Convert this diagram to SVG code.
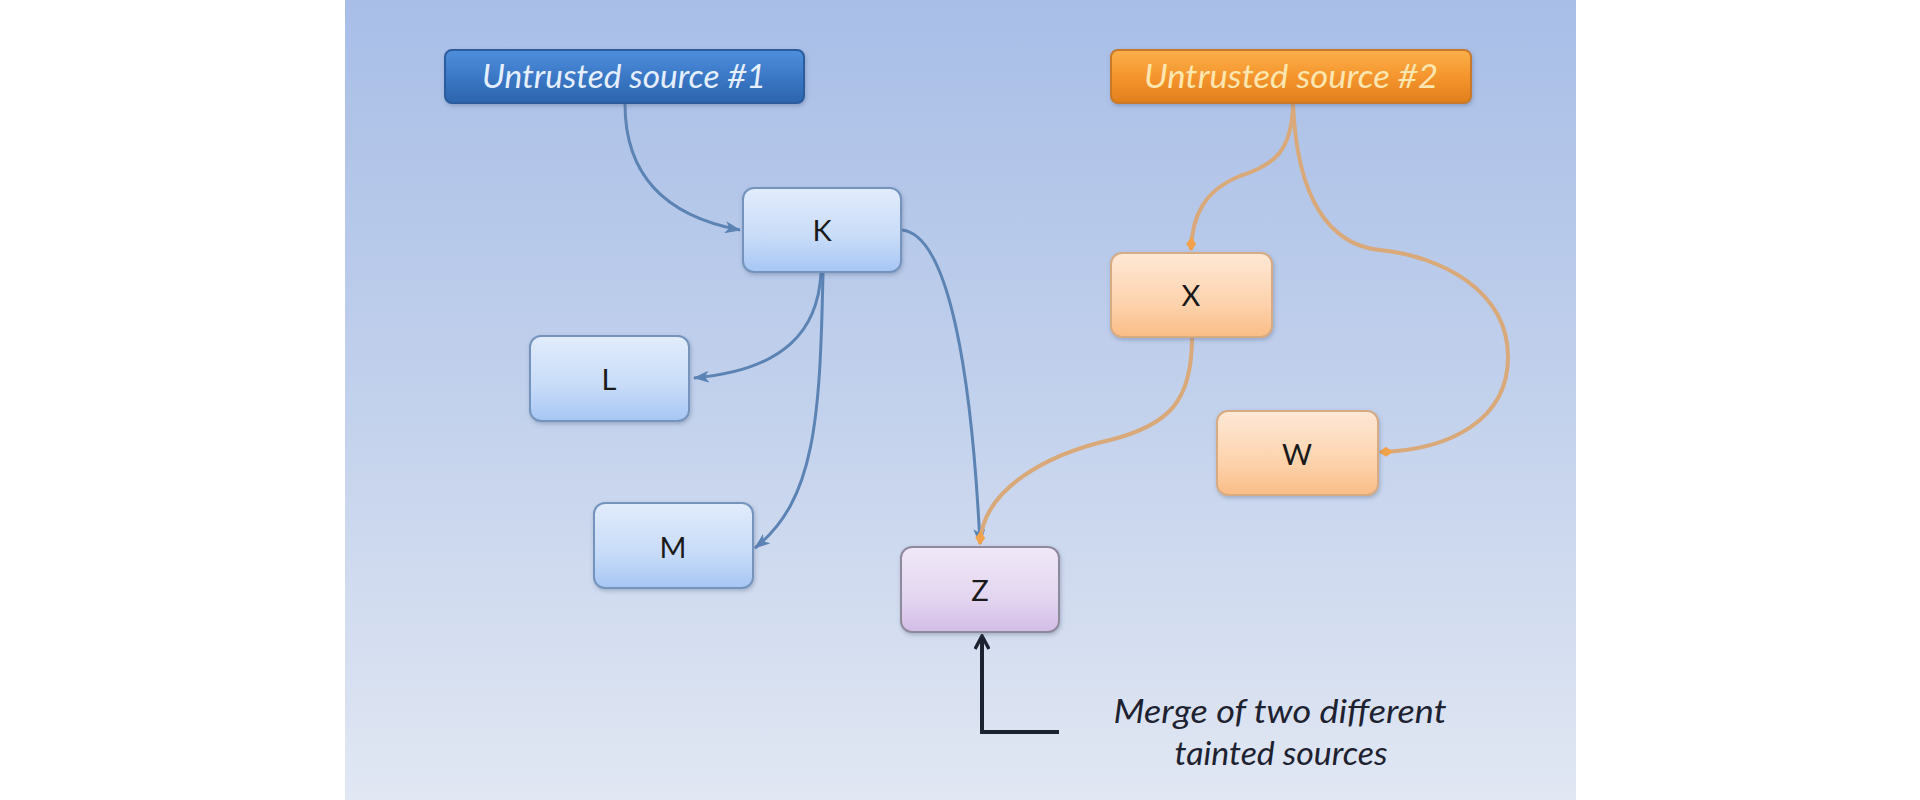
<svg xmlns="http://www.w3.org/2000/svg" width="1920" height="800" viewBox="0 0 1920 800">
<defs>
<linearGradient id="bg" x1="0" y1="0" x2="0" y2="1">
<stop offset="0" stop-color="#a8bee7"/>
<stop offset="0.5" stop-color="#c2d1ec"/>
<stop offset="1" stop-color="#e1e7f3"/>
</linearGradient>
<linearGradient id="gBlue" x1="0" y1="0" x2="0" y2="1">
<stop offset="0" stop-color="#e2ecfc"/>
<stop offset="0.6" stop-color="#c7dbf8"/>
<stop offset="1" stop-color="#a6c6f4"/>
</linearGradient>
<linearGradient id="gOrange" x1="0" y1="0" x2="0" y2="1">
<stop offset="0" stop-color="#fee8d6"/>
<stop offset="0.6" stop-color="#fdd3ad"/>
<stop offset="1" stop-color="#fabd86"/>
</linearGradient>
<linearGradient id="gPurple" x1="0" y1="0" x2="0" y2="1">
<stop offset="0" stop-color="#f0e8f8"/>
<stop offset="0.6" stop-color="#e3d5f0"/>
<stop offset="1" stop-color="#d3bde6"/>
</linearGradient>
<linearGradient id="gSrc1" x1="0" y1="0" x2="0" y2="1">
<stop offset="0" stop-color="#4f8fdc"/>
<stop offset="0.5" stop-color="#3b78c6"/>
<stop offset="1" stop-color="#2c64ad"/>
</linearGradient>
<linearGradient id="gSrc2" x1="0" y1="0" x2="0" y2="1">
<stop offset="0" stop-color="#fbb04a"/>
<stop offset="0.5" stop-color="#f5952e"/>
<stop offset="1" stop-color="#e17f1c"/>
</linearGradient>
<filter id="sh" x="-10%" y="-10%" width="120%" height="130%">
<feDropShadow dx="1" dy="2" stdDeviation="2" flood-color="#4a5a78" flood-opacity="0.35"/>
</filter>
<marker id="aBlue" viewBox="0 0 16 12" refX="15" refY="6" markerWidth="16" markerHeight="12" markerUnits="userSpaceOnUse" orient="auto">
<path d="M0,0 L16,6 L0,12 L4,6 Z" fill="#5b83b4"/>
</marker>
<marker id="aOrange" viewBox="0 0 14 12" refX="13" refY="6" markerWidth="14" markerHeight="12" markerUnits="userSpaceOnUse" orient="auto">
<path d="M0,6 L7,1 L14,6 L7,11 Z" fill="#f2a24a"/>
</marker>
<marker id="aBlack" viewBox="0 0 16 16" refX="14" refY="8" markerWidth="16" markerHeight="16" markerUnits="userSpaceOnUse" orient="auto">
<path d="M1,1 L14,8 L1,15" fill="none" stroke="#1c2230" stroke-width="3.5"/>
</marker>
</defs>
<style>
.node rect { stroke-width: 2; filter: url(#sh); }
.nb rect { fill: url(#gBlue); stroke: #7494bd; }
.no rect { fill: url(#gOrange); stroke: #d6ab84; }
.np rect { fill: url(#gPurple); stroke: #8e8a9c; }
.lbl { font-family: Lato, "Open Sans", "Liberation Sans", sans-serif; font-size: 29px; fill: #1a1a1a; text-anchor: middle; }
.src { font-family: Lato, "Open Sans", "Liberation Sans", sans-serif; font-style: italic; font-size: 32px; text-anchor: middle; }
.cb { fill: none; stroke: #5b83b4; stroke-width: 3; marker-end: url(#aBlue); }
.co { fill: none; stroke: #d9a97a; stroke-width: 4; marker-end: url(#aOrange); }
.note { font-family: Lato, "Open Sans", "Liberation Sans", sans-serif; font-style: italic; font-size: 32px; fill: #1e2230; text-anchor: middle; }
</style>
<rect x="0" y="0" width="1920" height="800" fill="#ffffff"/>
<rect x="345" y="0" width="1231" height="800" fill="url(#bg)"/>

<g id="connectors">
<path class="cb" d="M625,104 C625,170 660,215 740,230"/>
<path class="cb" d="M821,273 C818,330 785,370 694,378"/>
<path class="cb" d="M823,273 C820,420 815,500 755,548"/>
<path class="cb" d="M902,230 C950,235 972,380 980,544"/>
<path class="co" d="M1293,104 C1292,150 1275,165 1240,176 C1205,190 1192,215 1191,250"/>
<path class="co" d="M1293,104 C1297,200 1330,245 1380,250 C1440,256 1508,290 1508,357 C1508,420 1450,450 1380,452"/>
<path class="co" d="M1192,338 C1192,400 1170,425 1110,440 C1045,455 982,490 980,544"/>
<path d="M1059,732 L982,732 L982,636" fill="none" stroke="#1c2230" stroke-width="4" marker-end="url(#aBlack)"/>
</g>

<g id="src1" class="node">
<rect x="445" y="50" width="359" height="53" rx="7" fill="url(#gSrc1)" stroke="#2b5c9e"/>
<text class="src" x="624" y="88" fill="#e6efff" textLength="284" lengthAdjust="spacingAndGlyphs">Untrusted source #1</text>
</g>
<g id="src2" class="node">
<rect x="1111" y="50" width="360" height="53" rx="7" fill="url(#gSrc2)" stroke="#c77a2c"/>
<text class="src" x="1291" y="88" fill="#fde6b0" textLength="294" lengthAdjust="spacingAndGlyphs">Untrusted source #2</text>
</g>
<g id="K" class="node nb">
<rect x="743" y="188" width="158" height="84" rx="11"/>
<text class="lbl" x="822" y="241">K</text>
</g>
<g id="L" class="node nb">
<rect x="530" y="336" width="159" height="85" rx="11"/>
<text class="lbl" x="609" y="390">L</text>
</g>
<g id="M" class="node nb">
<rect x="594" y="503" width="159" height="85" rx="11"/>
<text class="lbl" x="673" y="558">M</text>
</g>
<g id="Z" class="node np">
<rect x="901" y="547" width="158" height="85" rx="11"/>
<text class="lbl" x="980" y="601">Z</text>
</g>
<g id="X" class="node no">
<rect x="1111" y="253" width="161" height="84" rx="11"/>
<text class="lbl" x="1191" y="306">X</text>
</g>
<g id="W" class="node no">
<rect x="1217" y="411" width="161" height="84" rx="11"/>
<text class="lbl" x="1297" y="465">W</text>
</g>
<g id="note">
<text class="note" x="1280" y="723" textLength="333" lengthAdjust="spacingAndGlyphs">Merge of two different</text>
<text class="note" x="1281" y="765" textLength="213" lengthAdjust="spacingAndGlyphs">tainted sources</text>
</g>
</svg>
